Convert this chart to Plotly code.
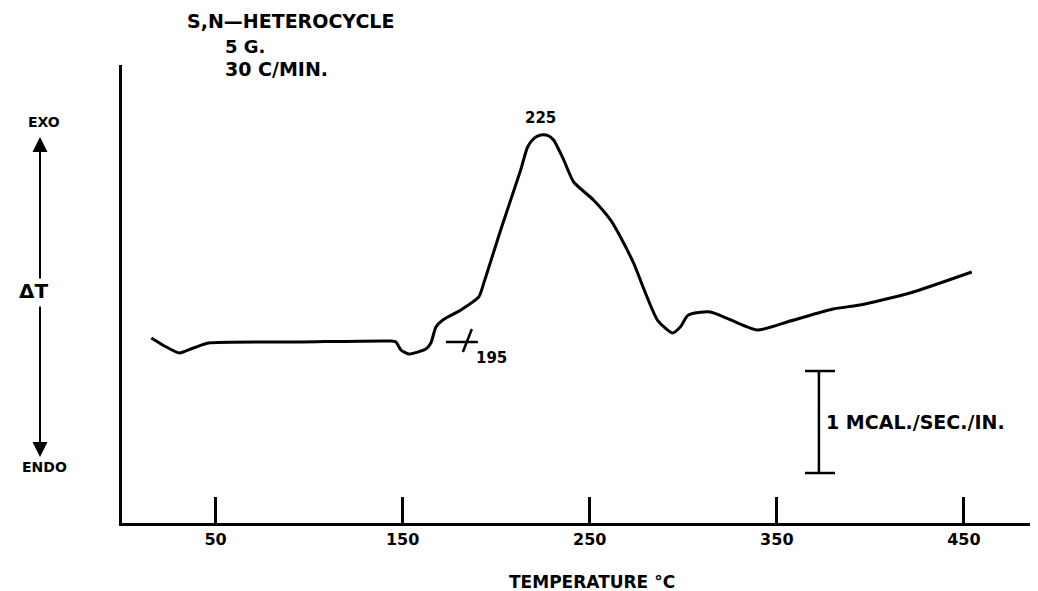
import plotly.graph_objects as go

# DTA curve: temperature (deg C) vs delta T (mcal/sec, arbitrary baseline)
temp = [15.7, 23.7, 30.7, 38.2, 46.2, 95.8, 143.8, 146.4, 149.1, 153.4, 162.4, 165.1,
        167.8, 171.5, 181.1, 190.7, 193.4, 202.4, 213.1, 216.8, 220.5, 223.8, 227.5, 230.7,
        236.1, 241.4, 252.0, 261.1, 267.0, 273.4, 286.2, 294.2, 298.4, 302.7, 314.4,
        339.5, 357.1, 380.0, 394.4, 421.1, 454.2]
delta_t = [1.814, 1.725, 1.667, 1.716, 1.765, 1.775, 1.784, 1.775, 1.696, 1.657, 1.706, 1.765,
           1.922, 1.990, 2.088, 2.216, 2.353, 2.873, 3.461, 3.686, 3.775, 3.804, 3.800, 3.755,
           3.559, 3.343, 3.167, 2.971, 2.785, 2.549, 1.990, 1.863, 1.922, 2.039, 2.069,
           1.892, 1.980, 2.098, 2.137, 2.255, 2.461]

tick_vals = [50, 150, 250, 350, 450]
peak_temp = 225
onset_temp = 195
title_lines = ["S,N\u2014HETEROCYCLE", "5 G.", "30 C/MIN."]
scale_label = "1 MCAL./SEC./IN."
x_title = "TEMPERATURE \u00b0C"

FONT = "DejaVu Sans"
W, H = 1030, 583
ML, MR, MT, MB = 114, 0, 57, 68
PW, PH = W - ML - MR, H - MT - MB
OFF = 8  # page offset of the plot div


def px(x):
    return (x - OFF - ML) / PW


def py(y):
    return (H - MB - (y - OFF)) / PH


def font(size, bold=True):
    return dict(family=FONT, size=size, color="black", weight="bold" if bold else "normal")


fig = go.Figure()
fig.add_trace(go.Scatter(x=temp, y=delta_t, mode="lines",
                         line=dict(color="black", width=3, shape="spline", smoothing=0.6),
                         hoverinfo="skip", showlegend=False))

shapes = [
    # onset cross mark
    dict(type="line", xref="x", yref="y", x0=173.1, y0=1.775, x1=190.2, y1=1.775),
    dict(type="line", xref="x", yref="y", x0=187.0, y0=1.902, x1=182.2, y1=1.676),
    # scale bar (1 unit)
    dict(type="line", xref="x", yref="y", x0=372.5, y0=0.49, x1=372.5, y1=1.49),
    dict(type="line", xref="x", yref="y", x0=365.1, y0=1.49, x1=381.1, y1=1.49),
    dict(type="line", xref="x", yref="y", x0=365.1, y0=0.49, x1=381.1, y1=0.49),
]
for s in shapes:
    s["line"] = dict(color="black", width=2.5)

ann = []
P = dict(xref="paper", yref="paper", showarrow=False, yanchor="middle")
ann.append(dict(P, x=px(185), y=py(21), text=title_lines[0], xanchor="left", font=font(19)))
ann.append(dict(P, x=px(223), y=py(46), text=title_lines[1], xanchor="left", font=font(18)))
ann.append(dict(P, x=px(223), y=py(69), text=title_lines[2], xanchor="left", font=font(19)))
ann.append(dict(P, x=px(592), y=py(582), text=x_title, xanchor="center", font=font(17)))
ann.append(dict(P, x=px(44), y=py(122), text="EXO", xanchor="center", font=font(14)))
ann.append(dict(P, x=px(33), y=py(291), text="\u0394T", xanchor="center", font=font(20)))
ann.append(dict(P, x=px(44), y=py(467), text="ENDO", xanchor="center", font=font(14)))
ann.append(dict(x=223.8, y=3.97, text=str(peak_temp), xanchor="center", yanchor="middle",
                showarrow=False, font=font(15)))
ann.append(dict(x=188.0, y=1.62, text=str(onset_temp), xanchor="left", yanchor="middle",
                showarrow=False, font=font(15)))
ann.append(dict(x=375.0, y=0.99, text=scale_label, xanchor="left", yanchor="middle",
                showarrow=False, font=font(19)))
# EXO / ENDO arrows
for tip_px, tail_px in [(137, 280), (457, 305)]:
    ann.append(dict(xref="paper", yref="paper", x=px(40), y=py(tip_px), ax=0, ay=tail_px - tip_px,
                    text="", showarrow=True, arrowhead=2, arrowsize=1.5, arrowwidth=2,
                    arrowcolor="black"))

fig.update_layout(
    width=W, height=H,
    margin=dict(l=ML, r=MR, t=MT, b=MB),
    paper_bgcolor="white", plot_bgcolor="white",
    shapes=shapes, annotations=ann,
    xaxis=dict(range=[0, 489.6], showline=True, linecolor="black", linewidth=2.5,
               ticks="inside", ticklen=26, tickwidth=2.5, tickcolor="black",
               tickvals=tick_vals, ticktext=[str(v) for v in tick_vals],
               tickfont=font(16),
               showgrid=False, zeroline=False, fixedrange=True),
    yaxis=dict(range=[0, 4.49], showline=True, linecolor="black", linewidth=2.5,
               showticklabels=False, ticks="", showgrid=False, zeroline=False, fixedrange=True),
)
fig.write_html("out.html")
